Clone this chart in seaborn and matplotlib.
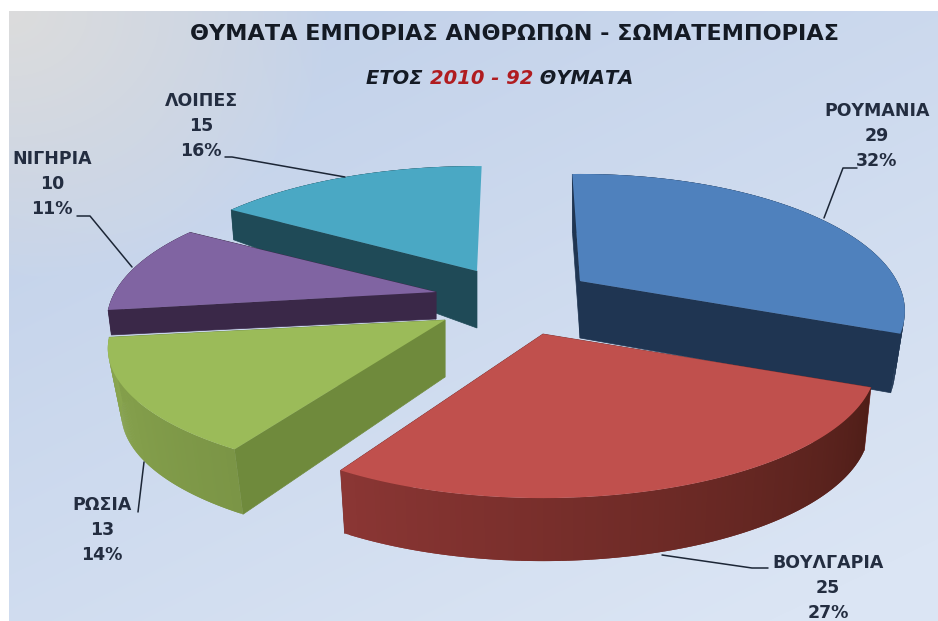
import numpy as np
import seaborn as sns
import matplotlib.pyplot as plt
from matplotlib.patches import Polygon
from matplotlib.colors import to_rgb

sns.set_theme(style="white")
plt.rcParams["font.family"] = ["DejaVu Sans"]

# data
countries = ["ΡΟΥΜΑΝΙΑ", "ΒΟΥΛΓΑΡΙΑ", "ΡΩΣΙΑ", "ΝΙΓΗΡΙΑ", "ΛΟΙΠΕΣ"]
victims = [29, 25, 13, 10, 15]
title = "ΘΥΜΑΤΑ ΕΜΠΟΡΙΑΣ ΑΝΘΡΩΠΩΝ - ΣΩΜΑΤΕΜΠΟΡΙΑΣ"
subtitle_parts = ["ΕΤΟΣ ", "2010 - 92", " ΘΥΜΑΤΑ"]

# look of the slices
top_colors = sns.color_palette(["#4f81bd", "#c0504d", "#9bbb59", "#8064a2", "#4aa8c4"])
cut_colors = ["#1f3552", "#7a2f2d", "#6f8a3c", "#3a2848", "#1f4a57"]
rim_start = ["#1f3552", "#8b3634", "#7b9546", "#3a2848", "#1f4a57"]
rim_end = ["#1f3552", "#4f1e18", "#8aa64f", "#3a2848", "#1f4a57"]
apex = [(580, 281), (543, 334), (445, 320), (436, 292), (477, 271)]
depth_apex = [57, 64, 57, 27, 57]
depth_rim = [59, 63, 65, 25, 30]
lean = [0.97, 0.98, 0.96, 0.99, 0.99]
turn = np.radians([-1.7, -1, 0, 0, 1])
rx_scale = [0.975, 1, 1.012, 0.988, 1]
ry_scale = [1.02, 1, 0.96, 1, 1]
draw_order = [4, 3, 0, 2, 1]
label_pos = [(877, 136), (828, 588), (102, 530), (52, 184), (201, 126)]
leaders = [
    [(857, 168), (843, 168), (824, 218)],
    [(768, 568), (752, 568), (662, 555)],
    [(138, 512), (144, 462)],
    [(77, 216), (90, 216), (132, 267)],
    [(225, 157), (232, 157), (345, 177)],
]

RX, RY, PERSP = 325, 128, 0.22


def project(ang, i):
    # angle clockwise from the top of the pie, tilted with a bit of perspective
    u, v = np.sin(ang), np.cos(ang)
    s = 1 / (1 + PERSP * v)
    return apex[i][0] + RX * rx_scale[i] * u * s, apex[i][1] - RY * ry_scale[i] * v * s


fig = plt.figure(figsize=(9.38, 6.21), dpi=100)
ax = fig.add_axes([0, 0, 1, 1])
ax.set_xlim(0, 938)
ax.set_ylim(621, 0)
ax.axis("off")

# background gradient, grey in the top left corner
yy, xx = np.mgrid[0:621, 0:938]
blue1 = np.array(to_rgb("#c3d2ea"))
blue2 = np.array(to_rgb("#dbe5f4"))
t = np.clip((xx / 938 * 0.55 + yy / 621 * 0.75) - 0.2, 0, 1)[..., None]
bg = blue1 * (1 - t) + blue2 * t
grey = np.array(to_rgb("#dcdcdc"))
g = np.clip(1 - np.hypot(xx - 9, (yy - 11) * 1.2) / 320, 0, 1)[..., None] ** 0.8
bg = bg * (1 - g) + grey * g
bg[:11, :] = 1
bg[:, :9] = 1
ax.imshow(bg, extent=(0, 938, 621, 0), aspect="auto", zorder=0)

# slices, back to front
edges = np.concatenate([[0], np.cumsum(victims)]) / sum(victims) * 2 * np.pi
z = 1
for i in draw_order:
    a0, a1 = edges[i] + turn[i], edges[i + 1] + turn[i]
    ax0, ay0 = apex[i]
    angs = np.linspace(a0, a1, 120)
    xs, ys = project(angs, i)
    low_xs = ax0 + (xs - ax0) * lean[i]
    low_ys = ys + depth_rim[i]

    # flat cut faces (the last slice hides its back one)
    for k in (0, -1):
        if i == 4 and k == -1:
            continue
        pts = [(ax0, ay0), (xs[k], ys[k]), (low_xs[k], low_ys[k]), (ax0, ay0 + depth_apex[i])]
        ax.add_patch(Polygon(pts, closed=True, fc=cut_colors[i], ec=cut_colors[i], lw=0.5, zorder=z))
    z += 1

    # outer wall, shaded along the arc; quads overlap so there are no seams
    c0, c1 = np.array(to_rgb(rim_start[i])), np.array(to_rgb(rim_end[i]))
    steps = range(len(angs) - 2)
    if i == 1:
        steps = reversed(steps)
    for k in steps:
        if i == 4 and xs[k + 2] > ax0:
            continue
        f = k / (len(angs) - 3)
        if i == 1:
            f = 1 - f
        col = c0 * (1 - f) + c1 * f
        ax.add_patch(Polygon([(xs[k], ys[k]), (xs[k + 2], ys[k + 2]),
                              (low_xs[k + 2], low_ys[k + 2]), (low_xs[k], low_ys[k])],
                             closed=True, fc=col, ec="none", zorder=z))
    z += 1

    pts = np.column_stack([np.r_[ax0, xs], np.r_[ay0, ys]])
    ax.add_patch(Polygon(pts, closed=True, fc=top_colors[i], ec="none", zorder=z))
    z += 1

# labels and leader lines
total = sum(victims)
ink = "#232d40"
for i, name in enumerate(countries):
    pct = round(victims[i] / total * 100)
    ax.text(label_pos[i][0], label_pos[i][1], f"{name}\n{victims[i]}\n{pct}%", ha="center", va="center",
            fontsize=12.5, fontweight="bold", color=ink, linespacing=1.5, zorder=z + 2)
    lx, ly = zip(*leaders[i])
    ax.plot(lx, ly, color="#1c2636", lw=1.1, zorder=z + 1)

# title
ax.text(514, 34, title, ha="center", va="center", fontsize=16.1, fontweight="bold", color="#141a24", zorder=z + 2)

# subtitle in three colours, placed one after the other
renderer = fig.canvas.get_renderer()
cols = ["#141a24", "#b01c20", "#141a24"]
widths = []
texts = []
for part, col in zip(subtitle_parts, cols):
    tx = ax.text(0, 79, part.replace(" ", "\u00a0"), ha="left", va="center", fontsize=14, fontweight="bold",
                 fontstyle="italic", color=col, zorder=z + 2)
    texts.append(tx)
    widths.append(tx.get_window_extent(renderer).width)
x_now = 500 - sum(widths) / 2
for tx, w in zip(texts, widths):
    tx.set_x(x_now)
    x_now += w

fig.savefig("out.png", dpi=100)
